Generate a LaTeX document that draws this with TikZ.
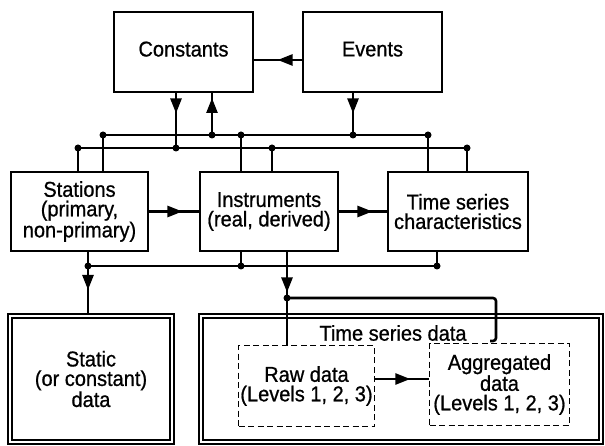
\documentclass[tikz,border=0pt]{standalone}
\usepackage{fontspec}
\setmainfont{Liberation Sans}
\newfontfamily\txtfam{Liberation Sans}[FakeBold=0.8,FakeStretch=0.93]
\usetikzlibrary{arrows.meta,decorations.markings}
\newcommand\txtfont{\txtfam\fontsize{21.5}{19.5}\selectfont}
\begin{document}
\begin{tikzpicture}[x=1pt,y=-1pt,line width=2.6pt,
  box/.style={draw,line width=2.8pt,inner sep=0pt,align=center,font=\txtfont},
  dbox/.style={draw,line width=2pt,double,double distance=2pt,inner sep=0pt,align=center,font=\txtfont},
  dashbox/.style={draw,line width=1.6pt,dash pattern=on 6pt off 3.5pt,inner sep=0pt,align=center,font=\txtfont},
  conn/.style={line width=2.6pt},
  dot/.style={circle,fill,inner sep=0pt,minimum size=7pt},
  midarrow/.style={postaction={decorate},decoration={markings,mark=at position #1 with {\arrow{Triangle[length=15pt,width=11pt]}}}}
]
\useasboundingbox (0,0) rectangle (605,446);

% boxes
\node[box,minimum width=139pt,minimum height=80pt] (const) at (183.5,52) {\raisebox{6pt}{Constants}};
\node[box,minimum width=139pt,minimum height=80pt] (events) at (372.5,52) {\raisebox{6pt}{Events}};
\node[box,minimum width=137pt,minimum height=79pt] (stations) at (79.5,211.5) {Stations\\(primary,\\non-primary)};
\node[box,minimum width=138pt,minimum height=79pt] (instr) at (269,211.5) {Instruments\\(real, derived)};
\node[box,minimum width=140pt,minimum height=79pt] (tsc) at (458,211.5) {Time series\\characteristics};
\node[dbox,minimum width=162.4pt,minimum height=126.4pt] (static) at (91,379) {Static\\(or constant)\\data};
\node[dbox,minimum width=400.4pt,minimum height=126.4pt] (tsd) at (401,379) {};
\node[font=\txtfont,inner sep=0pt] (tsdlabel) at (393,333) {Time series data};
\node[dashbox,minimum width=136pt,minimum height=81pt] (raw) at (306.5,386) {Raw data\\(Levels 1, 2, 3)};
\node[dashbox,minimum width=140pt,minimum height=82pt] (agg) at (499.5,384.5) {Aggregated\\data\\(Levels 1, 2, 3)};

% junction coordinates
\coordinate (u1) at (103,135);
\coordinate (u2) at (212,135);
\coordinate (u3) at (241,135);
\coordinate (u4) at (353,135);
\coordinate (u5) at (428,135);
\coordinate (l1) at (78,148);
\coordinate (l2) at (176,148);
\coordinate (l3) at (272,148);
\coordinate (l4) at (467,148);
\coordinate (b1) at (88,266);
\coordinate (b2) at (241,266);
\coordinate (b3) at (437,266);
\coordinate (d1) at (287,298);
\coordinate (d2) at (496,298);
\coordinate (yh) at (0,60);
\coordinate (yr) at (0,379);
\coordinate (hook) at (490,341);

% top connectors
\draw[conn,midarrow=24pt] (events.west |- yh) -- (const.east |- yh);
\draw[conn,midarrow=20pt] (const.south -| l2) -- (l2);
\draw[conn,midarrow=37pt] (u2) -- (const.south -| u2);
\draw[conn,midarrow=20pt] (events.south -| u4) -- (u4);

% buses
\draw[conn] (u1) -- (u5);
\draw[conn] (l1) -- (l4);
\draw[conn] (u1) -- (stations.north -| u1);
\draw[conn] (l1) -- (stations.north -| l1);
\draw[conn] (u3) -- (instr.north -| u3);
\draw[conn] (l3) -- (instr.north -| l3);
\draw[conn] (u5) -- (tsc.north -| u5);
\draw[conn] (l4) -- (tsc.north -| l4);

% middle row arrows
\draw[conn,midarrow=33pt] (stations.east) -- (instr.west);
\draw[conn,midarrow=33pt] (instr.east) -- (tsc.west);

% lower bus
\draw[conn] (b1) -- (b3);
\draw[conn] (stations.south -| b1) -- (b1);
\draw[conn] (instr.south -| b2) -- (b2);
\draw[conn] (tsc.south -| b3) -- (b3);
\draw[conn,midarrow=24pt] (b1) -- (static.north -| b1);
\draw[conn,midarrow=40pt] (instr.south -| d1) -- (d1);
\draw[conn] (d1) -- (raw.north -| d1);
\draw[conn,rounded corners=3pt] (d1) -- (d2) |- (hook);
\draw[conn,midarrow=35pt] (raw.east |- yr) -- (agg.west |- yr);

% dots
\foreach \c in {u1,u2,u3,u4,u5,l1,l2,l3,l4,b1,b2,b3,d1}
  \node[dot] (dot-\c) at (\c) {};
\end{tikzpicture}
\end{document}
